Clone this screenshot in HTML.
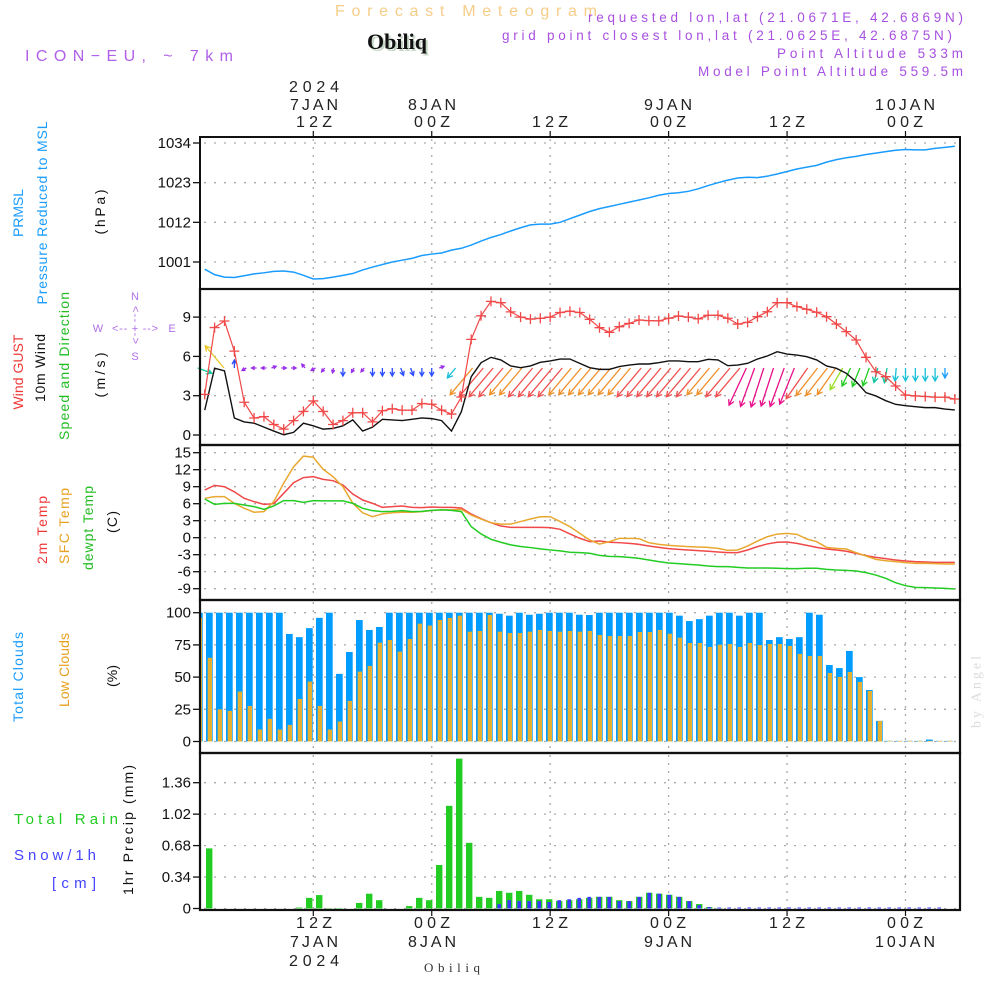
<!DOCTYPE html>
<html><head><meta charset="utf-8"><style>
html,body{margin:0;padding:0;background:#fff;}
svg{display:block;}
text{font-family:"Liberation Sans",sans-serif;}
text.serif{font-family:"Liberation Serif",serif;}
</style></head><body>
<svg id="chart" width="1000" height="1000" viewBox="0 0 1000 1000">
<rect x="0" y="0" width="1000" height="1000" fill="#fff"/>
<text x="466" y="16" text-anchor="middle" font-size="16" fill="#f5cd88" textLength="262" lengthAdjust="spacing">Forecast Meteogram</text>
<text class="serif" x="399" y="51" text-anchor="middle" font-size="22" font-weight="bold" fill="#c8d8c8">Obiliq</text>
<text class="serif" x="397" y="49" text-anchor="middle" font-size="22" font-weight="bold" fill="#111">Obiliq</text>
<text x="25" y="61" font-size="16" fill="#b060e8" textLength="208" lengthAdjust="spacing">ICON−EU, ~ 7km</text>
<g fill="#a850e0" font-size="13.5" text-anchor="end">
<text x="963" y="22" textLength="375" lengthAdjust="spacing">requested lon,lat (21.0671E, 42.6869N)</text>
<text x="952" y="40" textLength="450" lengthAdjust="spacing">grid point closest lon,lat (21.0625E, 42.6875N)</text>
<text x="963" y="58" textLength="186" lengthAdjust="spacing">Point Altitude 533m</text>
<text x="963" y="76" textLength="265" lengthAdjust="spacing">Model Point Altitude 559.5m</text>
</g>
<g id="toplabels" fill="#222" font-size="16" text-anchor="middle">
<text x="314" y="92" textLength="50" lengthAdjust="spacing">2024</text>
<text x="314" y="110" textLength="48" lengthAdjust="spacing">7JAN</text>
<text x="314" y="127" textLength="36" lengthAdjust="spacing">12Z</text>
<text x="432" y="110" textLength="48" lengthAdjust="spacing">8JAN</text>
<text x="432" y="127" textLength="36" lengthAdjust="spacing">00Z</text>
<text x="550" y="127" textLength="36" lengthAdjust="spacing">12Z</text>
<text x="668" y="110" textLength="48" lengthAdjust="spacing">9JAN</text>
<text x="668" y="127" textLength="36" lengthAdjust="spacing">00Z</text>
<text x="787" y="127" textLength="36" lengthAdjust="spacing">12Z</text>
<text x="905" y="110" textLength="60" lengthAdjust="spacing">10JAN</text>
<text x="905" y="127" textLength="36" lengthAdjust="spacing">00Z</text>
</g>
<g fill="#222" font-size="16" text-anchor="middle">
<text x="314" y="928" textLength="36" lengthAdjust="spacing">12Z</text>
<text x="314" y="947" textLength="48" lengthAdjust="spacing">7JAN</text>
<text x="314" y="966" textLength="50" lengthAdjust="spacing">2024</text>
<text x="432" y="928" textLength="36" lengthAdjust="spacing">00Z</text>
<text x="432" y="947" textLength="48" lengthAdjust="spacing">8JAN</text>
<text x="550" y="928" textLength="36" lengthAdjust="spacing">12Z</text>
<text x="668" y="928" textLength="36" lengthAdjust="spacing">00Z</text>
<text x="668" y="947" textLength="48" lengthAdjust="spacing">9JAN</text>
<text x="787" y="928" textLength="36" lengthAdjust="spacing">12Z</text>
<text x="905" y="928" textLength="36" lengthAdjust="spacing">00Z</text>
<text x="905" y="947" textLength="60" lengthAdjust="spacing">10JAN</text>
</g>
<text class="serif" x="452" y="972" text-anchor="middle" font-size="13" fill="#333" textLength="56" lengthAdjust="spacing">Obiliq</text>

<g font-size="14" text-anchor="middle" dominant-baseline="central">
<text transform="translate(18,213) rotate(-90)" fill="#1a9cff" textLength="48" lengthAdjust="spacing">PRMSL</text>
<text transform="translate(42,213) rotate(-90)" fill="#1a9cff" textLength="183" lengthAdjust="spacing">Pressure Reduced to MSL</text>
<text transform="translate(100,212) rotate(-90)" fill="#111" textLength="45" lengthAdjust="spacing">(hPa)</text>
<text transform="translate(18,372) rotate(-90)" fill="#f03838" textLength="75" lengthAdjust="spacing">Wind GUST</text>
<text transform="translate(40,368) rotate(-90)" fill="#111" textLength="68" lengthAdjust="spacing">10m Wind</text>
<text transform="translate(64,366) rotate(-90)" fill="#22bb22" textLength="148" lengthAdjust="spacing">Speed and Direction</text>
<text transform="translate(100,375) rotate(-90)" fill="#111" textLength="45" lengthAdjust="spacing">(m/s)</text>
<text transform="translate(42,530) rotate(-90)" fill="#f03838" textLength="68" lengthAdjust="spacing">2m Temp</text>
<text transform="translate(64,526) rotate(-90)" fill="#e8a020" textLength="76" lengthAdjust="spacing">SFC Temp</text>
<text transform="translate(88,528) rotate(-90)" fill="#22bb22" textLength="84" lengthAdjust="spacing">dewpt Temp</text>
<text transform="translate(112,522) rotate(-90)" fill="#111" textLength="22" lengthAdjust="spacing">(C)</text>
<text transform="translate(18,677) rotate(-90)" fill="#1a9cff" textLength="90" lengthAdjust="spacing">Total Clouds</text>
<text transform="translate(64,670) rotate(-90)" fill="#e8a020" textLength="74" lengthAdjust="spacing">Low Clouds</text>
<text transform="translate(112,676) rotate(-90)" fill="#111" textLength="22" lengthAdjust="spacing">(%)</text>
<text transform="translate(128,830) rotate(-90)" fill="#111" textLength="130" lengthAdjust="spacing">1hr Precip (mm)</text>
<text class="serif" transform="translate(977,692) rotate(-90)" fill="#dcdcdc" textLength="72" lengthAdjust="spacing">by Angel</text>
</g>
<text x="14" y="824" font-size="15" fill="#22cc22" textLength="104" lengthAdjust="spacing">Total  Rain</text>
<text x="14" y="860" font-size="15" fill="#4444ff" textLength="82" lengthAdjust="spacing">Snow/1h</text>
<text x="52" y="888" font-size="15" fill="#4444ff" textLength="44" lengthAdjust="spacing">[cm]</text>
<g fill="#b070e8" stroke="none" font-size="11" text-anchor="middle">
<text x="135" y="300">N</text><text x="135" y="360">S</text><text x="98" y="332">W</text><text x="172" y="332">E</text>
<text x="135" y="332" textLength="46" lengthAdjust="spacing">&lt;-- + --&gt;</text>
<text transform="translate(135,325) rotate(90)" textLength="38" lengthAdjust="spacing" dominant-baseline="central">&lt;-- --&gt;</text>
</g>
<g id="grid"></g>
<g id="marks"></g>
<g id="frame"></g>
</svg>
<script>
// ---------- data (index i = hour since 01Z 7JAN) ----------
const pressure = [999,997.5,996.8,996.7,997.2,997.7,998,998.4,998.5,998.2,997.3,996.3,996.4,996.8,997.3,997.8,998.8,999.6,1000.3,1001,1001.5,1002,1002.8,1003.2,1003.5,1004.3,1004.8,1005.7,1006.8,1007.8,1008.6,1009.6,1010.5,1011.3,1011.5,1011.5,1012,1013,1014,1015,1015.8,1016.4,1017,1017.6,1018.2,1018.8,1019.5,1020,1020.2,1020.6,1021.3,1022.2,1023,1023.7,1024.3,1024.5,1024.4,1024.8,1025.4,1026.1,1026.8,1027.3,1027.8,1028.7,1029.4,1029.9,1030.3,1030.8,1031.2,1031.6,1032,1032.2,1032.1,1032.1,1032.5,1032.8,1033.1];
const gust = [3.1,8.2,8.7,6.4,2.5,1.3,1.4,0.8,0.45,1.1,1.8,2.6,1.8,0.8,1.1,1.7,1.7,1.0,1.85,2.0,1.9,1.9,2.4,2.35,1.9,1.6,2.9,7.3,9.1,10.2,10.1,9.4,9.0,8.85,8.9,9.0,9.35,9.45,9.35,8.83,8.19,7.84,8.27,8.52,8.78,8.73,8.71,8.91,9.08,9.0,8.87,9.14,9.14,8.91,8.47,8.6,9.03,9.41,10.1,10.1,9.8,9.6,9.37,9.03,8.47,7.89,7.25,5.93,4.83,4.45,3.74,3.05,2.98,2.94,2.89,2.89,2.75];
const wind10 = [1.9,5.1,4.9,1.3,1.0,0.9,0.6,0.3,0.02,0.2,0.9,0.7,0.45,0.5,0.7,1.15,0.3,0.6,1.2,1.15,1.1,1.2,1.3,1.25,1.1,0.3,1.78,4.45,5.52,5.93,5.73,5.27,5.14,5.27,5.55,5.65,5.8,5.8,5.47,5.14,5.01,5.01,5.22,5.34,5.42,5.42,5.52,5.65,5.65,5.6,5.6,5.78,5.73,5.29,5.34,5.47,5.8,6.03,6.36,6.18,6.1,5.98,5.73,5.27,5.09,4.71,4.07,3.23,2.98,2.62,2.34,2.24,2.16,2.09,2.09,1.98,1.91];
const windDir = [290,140,0,180,60,90,90,250,270,270,140,60,40,10,0,30,40,0,0,0,340,340,0,0,250,40,40,40,40,40,40,40,40,40,40,40,40,40,40,40,40,40,40,40,40,40,40,40,40,40,40,40,40,40,25,20,18,18,20,22,35,38,38,35,30,25,22,20,15,10,5,0,0,0,0,0,0];
const windArrowSpd = [3,5.8,0,1.6,1,1,1,1,1,1,1,1,1,1,1.6,1,1,1.6,1.6,1.6,1.6,1.6,1.6,1.6,1,2.6,7.0,7.5,7.5,7.5,7.0,7.0,7.5,7.5,7.5,7.5,7.0,7.0,7.0,7.0,7.0,7.0,7.0,7.5,7.5,7.5,7.5,7.5,7.5,7.5,7.0,7.0,7.5,7.5,8.2,8.2,8.2,8.0,8.2,7.8,7.5,7.0,7.0,6.5,5.0,4.0,4.0,3.8,3.0,3.0,2.6,2.6,2.6,2.6,2.6,2.0,0];
const temp2m = [8.42,9.24,9.0,8.1,6.95,6.36,5.89,6.0,7.83,9.7,10.6,10.77,10.3,10.06,9.3,7.7,6.65,6.06,5.36,5.48,5.6,5.36,5.3,5.42,5.36,5.36,5.24,4.18,3.35,2.65,2.06,1.83,1.83,1.83,1.83,1.77,1.48,0.66,-0.1,-0.7,-0.59,-0.8,-0.88,-1.0,-1.17,-1.47,-1.7,-1.93,-2.05,-2.17,-2.29,-2.4,-2.52,-2.64,-2.64,-2.17,-1.58,-1.1,-0.8,-0.76,-1.0,-1.35,-1.7,-2.0,-2.17,-2.4,-2.76,-3.17,-3.47,-3.7,-3.94,-4.11,-4.23,-4.29,-4.35,-4.35,-4.35];
const tempSfc = [6.95,7.24,7.24,6.06,5.18,4.5,4.6,6.4,9.6,12.5,14.4,14.2,12.07,10.77,9.0,6.07,4.4,3.7,4.2,4.4,4.5,4.5,4.6,4.8,4.9,4.9,5.0,4.0,3.28,2.65,2.4,2.4,2.85,3.3,3.7,3.7,2.85,1.95,0.77,-0.4,-1.12,-0.7,-0.11,-0.11,-0.17,-0.88,-1.17,-1.35,-1.47,-1.58,-1.64,-1.7,-1.88,-2.23,-2.17,-1.47,-0.59,0.17,0.64,0.76,0.59,-0.23,-0.7,-1.7,-1.88,-2.0,-2.64,-3.23,-3.82,-4.06,-4.23,-4.4,-4.52,-4.52,-4.58,-4.64,-4.64];
const dewpt = [6.83,5.89,6.06,6.06,5.77,5.48,5.0,5.6,6.54,6.54,6.24,6.54,6.5,6.5,6.5,6.06,5.18,4.77,4.6,4.65,4.77,4.6,4.65,4.83,4.9,4.83,4.6,1.95,0.66,-0.28,-0.8,-1.27,-1.56,-1.74,-1.98,-2.16,-2.33,-2.57,-2.63,-2.75,-3.11,-3.29,-3.35,-3.47,-3.64,-3.94,-4.23,-4.47,-4.58,-4.7,-4.82,-5.0,-5.11,-5.11,-5.23,-5.35,-5.35,-5.35,-5.4,-5.46,-5.46,-5.4,-5.4,-5.58,-5.7,-5.76,-5.88,-6.17,-6.59,-7.17,-7.94,-8.47,-8.76,-8.82,-8.88,-8.94,-9.05];
const totalClouds = [100,100,100,100,100,100,100,100,100,83.5,81,88,96,100,52.5,69.5,94.3,86.6,88.9,100,100,100,100,100,100,100,100,100,100,100,99.2,97.7,100,98.4,99.2,100,100,100,98.4,98.2,100,100,100,100,100,100,100,100,97.7,93.5,95,97.7,100,100,97.7,100,100,78.8,81,79.6,81,100,98.4,59.4,57,70.3,50,40,16,0.5,0.5,0.5,0.5,1.5,0.5,0.5];
const lowClouds = [96,65,25,23.8,38.8,27.6,9.3,17.6,9.3,12.9,33,46.5,27.6,9.3,15.5,31.5,54.3,58.7,76.7,78.8,69.8,79.6,91.5,90,94.3,96,97.7,85.3,85.8,98.2,85.3,84.2,84.2,85.3,86.6,85.8,85.3,85.8,85.3,85.8,82.7,81.9,81.9,81.9,85,85,86.6,83.7,80.6,76.5,76.5,73.4,75.2,75.7,73.4,76.5,74.9,75.7,75.7,74.2,68,66.4,66.4,53.2,50.1,54,46.3,39.3,16,0.5,0.5,0.5,0.5,0.5,0.5,0.5];
const rain = [0.65,0,0,0,0,0,0,0,0,0.01,0.115,0.145,0.004,0.004,0,0.06,0.16,0.09,0,0,0.026,0.115,0.09,0.47,1.11,1.62,0.71,0.126,0.115,0.19,0.17,0.19,0.148,0.10,0.10,0.08,0.09,0.10,0.115,0.126,0.126,0.09,0.08,0.126,0.17,0.16,0.148,0.126,0.08,0.048,0.015,0.004];
const snow = [0,0,0,0,0,0,0,0,0,0,0,0,0,0,0,0,0,0,0,0,0,0,0,0,0,0,0,0,0,0.048,0.09,0.08,0.08,0.08,0.07,0.09,0.1,0.115,0.126,0.126,0.126,0.08,0.08,0.126,0.17,0.16,0.148,0.126,0.08,0.036,0.015,0.004,0.004,0.004,0.004,0.004,0.004,0.004,0.004,0.004,0.004,0.004,0.004,0.004,0.004,0.004,0.004,0.004,0.004,0.004,0.004,0.004,0.004,0.004];
const pressTicks = [1034,1023,1012,1001];
const windTicks = [9,6,3,0];
const tempTicks = [15,12,9,6,3,0,-3,-6,-9];
const cloudTicks = [100,75,50,25,0];
const precipTicks = [1.36,1.02,0.68,0.34,0];
const timeGridHours = [12,24,36,48,60,72];

// ---------- axes ----------
const L = 200, R = 960;
const xH = h => 313.3 + (h - 12) * 9.87;
const xI = i => xH(i + 1);
const xCloud = k => 196 + 10 * k;
const xPrecip = k => 206 + 10 * k;
const pY = v => 143 + (1034 - v) * 3.606;
const wY = v => 435 - v * 13.1;
const tY = v => 537.7 - v * 5.667;
const cY = v => 741.5 - v * 1.288;
const rY = v => 908.5 - v * 92.5;
const panels = [[137,289],[289,445],[445,600],[600,753],[753,910]];

const NS = 'http://www.w3.org/2000/svg';
function mk(tag, parent, attrs) {
  const e = document.createElementNS(NS, tag);
  for (const k in attrs) e.setAttribute(k, attrs[k]);
  parent.appendChild(e);
  return e;
}
const grid = document.getElementById('grid');
const marks = document.getElementById('marks');
const frame = document.getElementById('frame');

panels.forEach(([t, b]) => {
  timeGridHours.forEach(h => {
    const g = mk('line', grid, {x1: xH(h), x2: xH(h), y1: t + 2, y2: b, stroke: '#aaa', 'stroke-width': 1.3, 'stroke-dasharray': '2,6'});
    
    
  });
});
function hTicks(ticks, sc, fmt, name) {
  ticks.forEach(v => {
    const y = sc(v);
    const g = mk('line', grid, {x1: L + 4, x2: R, y1: y, y2: y, stroke: '#aaa', 'stroke-width': 1.3, 'stroke-dasharray': '2,8'});
    
    
    const tk = mk('line', frame, {x1: L - 7, x2: L, y1: y, y2: y, stroke: '#111', 'stroke-width': 1.3});
    
    
    const t = mk('text', frame, {x: L - 9, y: y + 5, 'text-anchor': 'end', 'font-size': 15, fill: '#111'});
    
    
    t.textContent = fmt(v);
  });
}
hTicks(pressTicks, pY, v => String(v), 'pressure');
hTicks(windTicks, wY, v => String(v), 'wind');
hTicks(tempTicks, tY, v => String(v), 'temp');
hTicks(cloudTicks, cY, v => String(v), 'cloud');
hTicks(precipTicks, rY, v => v === 0 ? '0' : v.toFixed(2), 'precip');

// ---------- pressure ----------
const pl = mk('polyline', marks, {points: pressure.map((v, i) => xI(i) + ',' + pY(v)).join(' '), fill: 'none', stroke: '#1a9cff', 'stroke-width': 1.5});



// ---------- wind ----------
function arrowColor(s) {
  if (s < 1.2) return '#9a2ee8';
  if (s < 1.8) return '#2a4cff';
  if (s < 2.3) return '#1a9cff';
  if (s < 2.8) return '#18c0d8';
  if (s < 3.4) return '#10c8a0';
  if (s < 4.5) return '#22cc22';
  if (s < 5.5) return '#99dd22';
  if (s < 6.2) return '#e8c828';
  if (s < 7.2) return '#f0902a';
  if (s < 7.8) return '#f05050';
  return '#e8108a';
}
windDir.forEach((d, i) => {
  const s = windArrowSpd[i];
  if (!s) return;
  const len = s * 5;
  const a = (d + 180) * Math.PI / 180;
  const dx = len * Math.sin(a), dy = -len * Math.cos(a);
  const x0 = xI(i) - dx / 2, y0 = 368;
  const x1 = x0 + dx, y1 = y0 + dy;
  const c = arrowColor(s);
  const hl = Math.min(6, Math.max(3.5, len * 0.6));
  const ux = -dx / len, uy = -dy / len;
  const rot = (ang) => [ux * Math.cos(ang) - uy * Math.sin(ang), ux * Math.sin(ang) + uy * Math.cos(ang)];
  const [ax, ay] = rot(0.5), [bx, by] = rot(-0.5);
  const p = mk('path', marks, {d: `M${x0},${y0}L${x1},${y1}M${x1 + ax * hl},${y1 + ay * hl}L${x1},${y1}L${x1 + bx * hl},${y1 + by * hl}`, fill: 'none', stroke: c, 'stroke-width': 1.3});
  
  
});
const wl = mk('polyline', marks, {points: wind10.map((v, i) => xI(i) + ',' + wY(v)).join(' '), fill: 'none', stroke: '#111', 'stroke-width': 1.4});


const gl = mk('polyline', marks, {points: gust.map((v, i) => xI(i) + ',' + wY(v)).join(' '), fill: 'none', stroke: '#f04848', 'stroke-width': 1.2});


gust.forEach((v, i) => {
  const x = xI(i), y = wY(v);
  const m = mk('path', marks, {d: `M${x - 5},${y}H${x + 5}M${x},${y - 5}V${y + 5}`, stroke: '#f04848', 'stroke-width': 1.3});
  
  
});

// ---------- temperature ----------
[[temp2m, '#f04848', 'temp-2m-line'], [tempSfc, '#e8a830', 'temp-sfc-line'], [dewpt, '#22cc22', 'dewpt-line']].forEach(([arr, col, nm]) => {
  const t = mk('polyline', marks, {points: arr.map((v, i) => xI(i) + ',' + tY(v)).join(' '), fill: 'none', stroke: col, 'stroke-width': 1.5});
  
  
});

// ---------- clouds ----------
totalClouds.forEach((v, k) => {
  const x = Math.max(L + 1, xCloud(k));
  const w = xCloud(k) + 6.7 - x;
  const b = mk('rect', marks, {x: x, y: cY(v), width: w, height: cY(0) - cY(v), fill: '#009cff'});
  
  
});
lowClouds.forEach((v, k) => {
  const x = Math.max(L + 1, xCloud(k) + 1.7);
  const w = xCloud(k) + 6 - x;
  const b = mk('rect', marks, {x: x, y: cY(v), width: w, height: cY(0) - cY(v), fill: '#e8b030'});
  
  
});

// ---------- precip ----------
rain.forEach((v, k) => {
  if (v <= 0) return;
  const b = mk('rect', marks, {x: xPrecip(k), y: rY(v), width: 6.4, height: rY(0) - rY(v), fill: '#22cc22'});
  
  
});
snow.forEach((v, k) => {
  if (v <= 0) return;
  const h = Math.max(1, rY(0) - rY(v));
  const b = mk('rect', marks, {x: xPrecip(k) + 1.4, y: rY(0) - h, width: 3.6, height: h, fill: '#3a3aff'});
  
  
});

// ---------- frame ----------
panels.forEach(([t, b], n) => {
  const r = mk('rect', frame, {x: L, y: t, width: R - L, height: b - t, fill: 'none', stroke: '#111', 'stroke-width': n === 0 ? 2 : 2.2});
  
  
});
timeGridHours.forEach(h => {
  const t1 = mk('line', frame, {x1: xH(h), x2: xH(h), y1: 131, y2: 137, stroke: '#111', 'stroke-width': 1.2});
  
  
  const t2 = mk('line', frame, {x1: xH(h), x2: xH(h), y1: 910, y2: 916, stroke: '#111', 'stroke-width': 1.2});
  
  
});
</script>
</body></html>
